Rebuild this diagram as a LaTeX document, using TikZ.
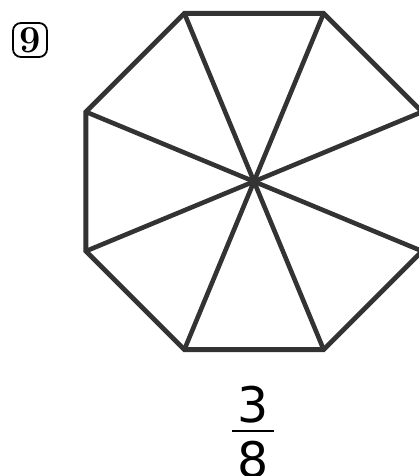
\documentclass[tikz,border=0pt]{standalone}
\usepackage{fontspec}
\usetikzlibrary{calc}
\newfontfamily\fracfont{DejaVu Sans}
\definecolor{edge}{HTML}{333333}
\tikzset{
  octline/.style={draw=edge, line width=4.8pt, line join=miter},
  spoke/.style={draw=edge, line width=4.6pt, line cap=butt},
  digit/.style={inner sep=0pt, font=\fracfont\fontsize{49}{49}\selectfont, text=black},
  badge/.style={draw=black, line width=1.8pt, rounded corners=8pt, minimum width=34pt, minimum height=34pt, inner sep=0pt, font=\bfseries\fontsize{38}{38}\selectfont}
}
\begin{document}
\begin{tikzpicture}[x=1pt,y=1pt]
\useasboundingbox (0,0) rectangle (419,-476);
\coordinate (c) at (254,-181.5);
\foreach \k in {0,...,7} {
  \coordinate (v\k) at ($(c)+({22.5+45*\k}:182)$);
}
\draw[octline] (v0) -- (v1) -- (v2) -- (v3) -- (v4) -- (v5) -- (v6) -- (v7) -- cycle;
\foreach \k in {0,...,7} {
  \draw[spoke] (c) -- (v\k);
}
\node[badge] (nine) at (30,-40) {9};
\node[digit] (three) at (253,-405) {3};
\node[digit] (eight) at (253,-460) {8};
\draw[line width=2.6pt, black] (232,-431) -- (274,-431);
\end{tikzpicture}
\end{document}
